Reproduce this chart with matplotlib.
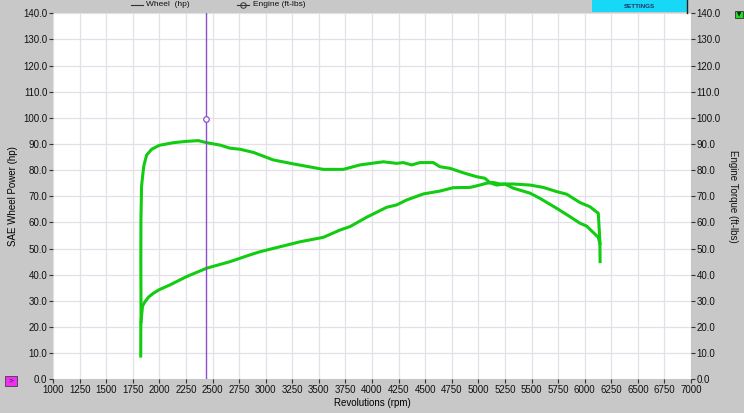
import matplotlib
matplotlib.use("Agg")
import matplotlib.pyplot as plt
from matplotlib.patches import Rectangle

plt.rcParams['font.family'] = ['Liberation Sans', 'DejaVu Sans']

# ---- data ----
power_rpm = [1825, 1826, 1835, 1842, 1865, 1900, 1943, 2000, 2100, 2257, 2445, 2665,
             2853, 2947, 3135, 3323, 3542, 3699, 3793, 3950, 4138, 4232, 4326, 4483,
             4639, 4765, 4922, 5015, 5078, 5140, 5204, 5329, 5486, 5611, 5737, 5831,
             5956, 6050, 6128, 6143, 6145]
power_hp = [8.9, 21.4, 25.2, 28.0, 29.7, 31.5, 32.9, 34.3, 36.1, 39.3, 42.5, 45.0,
            47.6, 48.8, 50.7, 52.6, 54.3, 57.1, 58.4, 62.0, 65.8, 66.7, 68.6, 70.9,
            72.0, 73.3, 73.4, 74.3, 75.0, 75.3, 74.7, 74.7, 74.3, 73.4, 71.8, 70.8,
            67.6, 66.0, 63.5, 53.0, 45.0]

torque_rpm = [1828, 1826, 1827, 1833, 1849, 1856, 1881, 1928, 2000, 2132, 2250, 2366,
              2445, 2570, 2665, 2759, 2884, 3072, 3260, 3542, 3730, 3887, 4106, 4232,
              4295, 4373, 4451, 4576, 4639, 4733, 4858, 4983, 5062, 5109, 5172, 5250,
              5329, 5486, 5580, 5737, 5862, 5956, 6019, 6128, 6143]
torque_ftlb = [22.0, 45.0, 61.0, 74.0, 80.0, 82.0, 85.8, 88.0, 89.5, 90.5, 91.0, 91.3,
               90.5, 89.6, 88.4, 88.0, 86.8, 83.9, 82.4, 80.3, 80.3, 82.0, 83.2, 82.6,
               82.9, 82.0, 82.9, 82.9, 81.3, 80.7, 79.0, 77.5, 76.9, 75.2, 74.3, 74.7,
               73.1, 71.2, 69.2, 65.4, 62.2, 59.7, 58.6, 54.3, 52.0]

cursor_rpm = 2440
cursor_value = 99.6

x_ticks = list(range(1000, 7001, 250))
y_ticks = list(range(0, 141, 10))

# ---- figure ----
bg = '#c8c8c8'
fig = plt.figure(figsize=(7.44, 4.13), dpi=100, facecolor=bg)
ax = fig.add_axes([53/744, 1 - 379.3/413, (691-53)/744, (379.3-13.3)/413])
ax.set_facecolor('white')
ax.set_xlim(1000, 7000)
ax.set_ylim(0, 140)
ax.set_xticks(x_ticks)
ax.set_yticks(y_ticks)
ax.set_xticklabels([str(v) for v in x_ticks], fontsize=7)
ax.set_yticklabels([f"{v:.1f}" for v in y_ticks], fontsize=7)
ax.grid(True, color='#e4e0ea', linewidth=0.9)
ax.set_axisbelow(True)
for s in ax.spines.values():
    s.set_visible(False)
ax.tick_params(axis='both', direction='out', length=3, width=0.8, color='#333333',
               labelcolor='#111111', pad=1)

ax.plot(torque_rpm, torque_ftlb, color='#11cc11', linewidth=2.2, solid_joinstyle='round')
ax.plot(power_rpm, power_hp, color='#11cc11', linewidth=2.2, solid_joinstyle='round')

ax.axvline(cursor_rpm, color='#8a4fd0', linewidth=1.0)
ax.plot([cursor_rpm], [cursor_value], marker='o', markersize=4, markerfacecolor='white',
        markeredgecolor='#8a4fd0', markeredgewidth=0.9)

ax.set_xlabel('Revolutions (rpm)', fontsize=7, labelpad=2)
ax.set_ylabel('SAE Wheel Power (hp)', fontsize=7, labelpad=4)

ax2 = ax.twinx()
ax2.set_ylim(0, 140)
ax2.set_yticks(y_ticks)
ax2.set_yticklabels([f"{v:.1f}" for v in y_ticks], fontsize=7)
for s in ax2.spines.values():
    s.set_visible(False)
ax2.tick_params(axis='y', direction='out', length=3, width=0.8, color='#333333',
                labelcolor='#111111', pad=1)
fig.text(733/744, 1 - 196/413, 'Engine Torque (ft-lbs)', fontsize=7, rotation=-90,
         ha='center', va='center', color='#111111')

# ---- legend strip (top) ----
fig.add_artist(plt.Line2D([131/744, 143/744], [1 - 5/413, 1 - 5/413], color='#333333', linewidth=0.8))
fig.text(146/744, 1 - 5/413, 'Wheel  (hp)', fontsize=6, va='center', ha='left', color='#111111')
fig.add_artist(plt.Line2D([237/744, 249/744], [1 - 5/413, 1 - 5/413], color='#333333', linewidth=0.8))
fig.add_artist(plt.Line2D([243/744], [1 - 5/413], color='#333333', marker='o', markersize=4,
                          markerfacecolor='none', markeredgewidth=0.7))
fig.text(253/744, 1 - 5/413, 'Engine (ft-lbs)', fontsize=6, va='center', ha='left', color='#111111')

# SETTINGS button
fig.add_artist(Rectangle((592/744, 1 - 12/413), 95/744, 12/413, transform=fig.transFigure,
                         facecolor='#18d8f8', edgecolor='none'))
fig.add_artist(plt.Line2D([687/744, 687/744], [1 - 13/413, 1.0], color='#222222', linewidth=1.0))
fig.text(639/744, 1 - 6/413, 'SETTINGS', fontsize=4.5, fontweight='bold', ha='center', va='center',
         color='#203060')

# green dropdown box on right
fig.add_artist(Rectangle((735/744, 1 - 18/413), 8/744, 7/413, transform=fig.transFigure,
                         facecolor='#22dd22', edgecolor='#333333', linewidth=0.6))
fig.text(739/744, 1 - 14.5/413, '▼', fontsize=4, ha='center', va='center', color='#111111',
         family='DejaVu Sans')

# magenta button lower left
fig.add_artist(Rectangle((5/744, 1 - 386/413), 12/744, 10/413, transform=fig.transFigure,
                         facecolor='#f030f0', edgecolor='#404040', linewidth=0.6))
fig.text(11/744, 1 - 381/413, '>', fontsize=6, ha='center', va='center', color='#202060')

fig.savefig('out.png', dpi=100, facecolor=bg)
